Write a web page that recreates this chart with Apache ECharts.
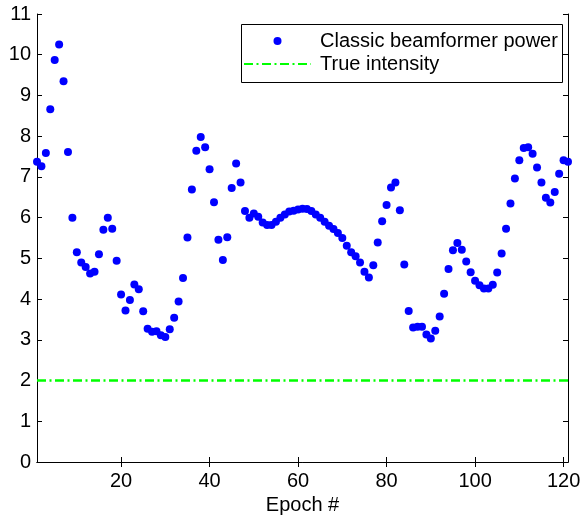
<!DOCTYPE html>
<html><head><meta charset="utf-8">
<script src="https://cdn.jsdelivr.net/npm/echarts@6/dist/echarts.min.js"></script>
<style>html,body{margin:0;padding:0;background:#fff}#c{width:584px;height:518px}</style>
</head><body><div id="c"></div>
<script>
// Classic beamformer power per epoch (epoch = index + 1)
const beamformerPower = [
  7.37, 7.26, 7.59, 8.66, 9.87, 10.25, 9.35, 7.61, 6.00, 5.15,
  4.90, 4.79, 4.63, 4.67, 5.10, 5.70, 6.00, 5.73, 4.94, 4.11,
  3.72, 3.98, 4.36, 4.24, 3.70, 3.27, 3.20, 3.21, 3.11, 3.07,
  3.26, 3.54, 3.94, 4.52, 5.51, 6.69, 7.64, 7.98, 7.73, 7.19,
  6.38, 5.46, 4.96, 5.52, 6.73, 7.33, 6.86, 6.16, 6.00, 6.10,
  6.02, 5.88, 5.82, 5.82, 5.90, 6.00, 6.08, 6.15, 6.17, 6.20,
  6.22, 6.21, 6.16, 6.08, 6.00, 5.90, 5.80, 5.72, 5.62, 5.50,
  5.31, 5.15, 5.05, 4.90, 4.67, 4.53, 4.83, 5.39, 5.91, 6.31,
  6.74, 6.86, 6.18, 4.85, 3.71, 3.30, 3.32, 3.32, 3.13, 3.03,
  3.22, 3.57, 4.13, 4.74, 5.20, 5.38, 5.21, 4.92, 4.66, 4.45,
  4.34, 4.26, 4.26, 4.35, 4.65, 5.12, 5.73, 6.35, 6.96, 7.41,
  7.71, 7.73, 7.57, 7.23, 6.86, 6.49, 6.37, 6.63, 7.08, 7.41,
  7.37
];
const firstEpoch = 1;
const trueIntensity = [[1, 2], [121, 2]];
const xTicks = [20, 40, 60, 80, 100, 120];
const yMin = 0, yMax = 11, yStep = 1;
const xMin = 1, xMax = 121;

const FONT = '"Liberation Sans", Arial, sans-serif';
const scatterData = beamformerPower.map((v, i) => [firstEpoch + i, v]);

const chart = echarts.init(document.getElementById('c'), null, {renderer: 'canvas'});
const axisLine = {show: true, lineStyle: {color: '#000', width: 1}};
chart.setOption({
  animation: false,
  backgroundColor: '#fff',
  grid: {left: 37, right: 16, top: 14, bottom: 56, containLabel: false, outerBoundsMode: 'none'},
  xAxis: [{
    type: 'value', min: xMin, max: xMax, position: 'bottom',
    axisLine: axisLine,
    axisTick: {show: true, inside: true, length: 5, customValues: xTicks, lineStyle: {color: '#000'}},
    axisLabel: {customValues: xTicks, color: '#000', fontSize: 20, fontFamily: FONT, margin: 9},
    splitLine: {show: false},
    name: 'Epoch #', nameLocation: 'middle', nameGap: 32,
    nameTextStyle: {color: '#000', fontSize: 20, fontFamily: FONT}
  }, {
    type: 'value', min: xMin, max: xMax, position: 'top',
    axisLine: axisLine,
    axisTick: {show: true, inside: true, length: 5, customValues: xTicks, lineStyle: {color: '#000'}},
    axisLabel: {show: false},
    splitLine: {show: false}
  }],
  yAxis: [{
    type: 'value', min: yMin, max: yMax, interval: yStep, position: 'left',
    axisLine: axisLine,
    axisTick: {show: true, inside: true, length: 5, lineStyle: {color: '#000'}},
    axisLabel: {color: '#000', fontSize: 20, fontFamily: FONT, margin: 6},
    splitLine: {show: false}
  }, {
    type: 'value', min: yMin, max: yMax, interval: yStep, position: 'right',
    axisLine: axisLine,
    axisTick: {show: true, inside: true, length: 5, lineStyle: {color: '#000'}},
    axisLabel: {show: false},
    splitLine: {show: false}
  }],
  legend: {
    orient: 'vertical', left: 243, top: 31, itemWidth: 67, itemHeight: 8, itemGap: 3,
    padding: 0, z: 5,
    textStyle: {color: '#000', fontSize: 20, fontFamily: FONT, padding: [0, 0, 0, 4]},
    data: [
      {name: 'Classic beamformer power', icon: 'circle', itemStyle: {opacity: 1}},
      {name: 'True intensity', itemStyle: {opacity: 0}}
    ]
  },
  graphic: [{
    type: 'rect', z: 3,
    shape: {x: 241.5, y: 24.5, width: 321, height: 58},
    style: {fill: '#fff', stroke: '#000', lineWidth: 1}
  }],
  series: [{
    name: 'Classic beamformer power', type: 'scatter',
    data: scatterData, symbol: 'circle', symbolSize: 8,
    itemStyle: {color: '#0000ff', opacity: 1}, z: 2
  }, {
    name: 'True intensity', type: 'line',
    data: trueIntensity, symbol: 'none', showSymbol: false,
    lineStyle: {color: '#00ff00', width: 2.5, type: [9, 3.5, 2, 3.5]},
    itemStyle: {color: '#00ff00'}, z: 1
  }]
});
</script>
</body></html>
